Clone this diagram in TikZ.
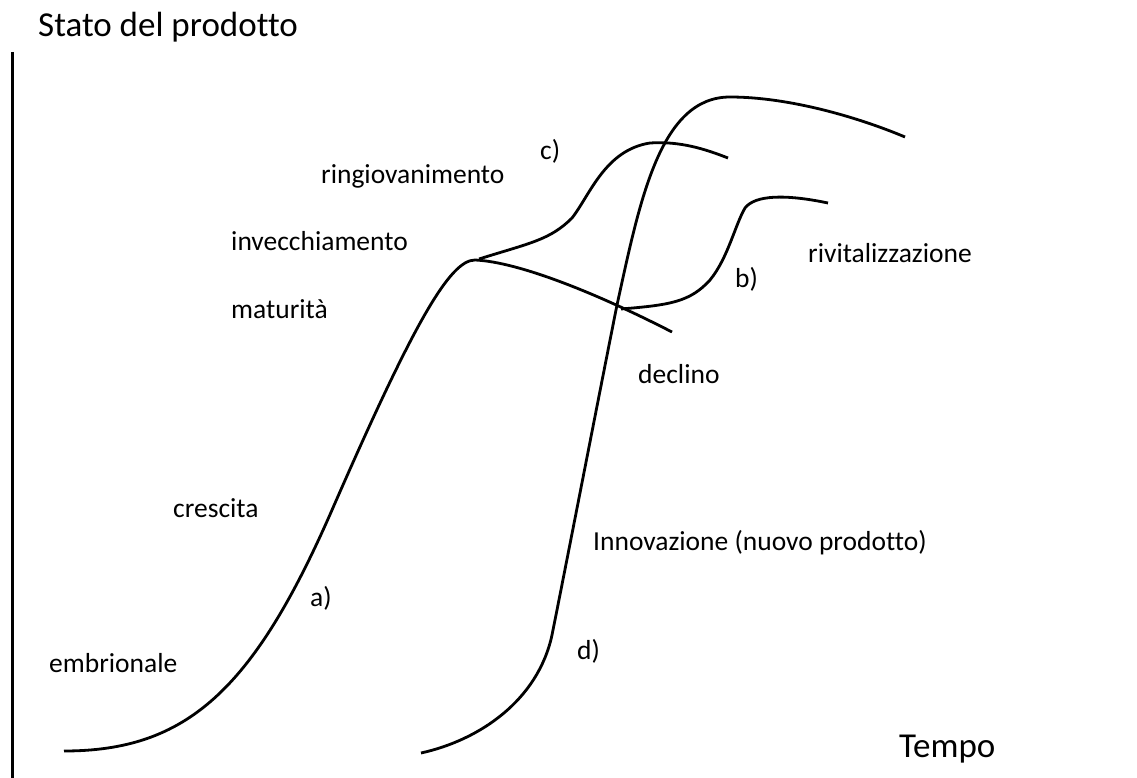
\documentclass[tikz,border=0pt]{standalone}
\usepackage{fontspec}
\setmainfont{Carlito}[Ligatures=NoCommon]
\usepackage{tikz}
\usetikzlibrary{positioning}

\begin{document}
\begin{tikzpicture}[x=1pt,y=-1pt,line join=round,
  curva/.style={line width=2.8pt},
  etichetta/.style={anchor=base west,inner sep=0pt,font=\fontsize{27.5}{30}\selectfont},
  titolo/.style={anchor=base west,inner sep=0pt,font=\fontsize{35}{38}\selectfont}]
\useasboundingbox (0,0) rectangle (1137,778);
% --- axis and axis titles
\draw[line width=3pt] (12,52) -- (12,778);
\node[titolo] (stato) at (38,37) {Stato del prodotto};
\node[titolo] (tempo) at (899,757) {Tempo};
% --- curve a): first product, growth then decline
\draw[curva] (64,751) .. controls (186,751) and (253,691) .. (332,510)
  .. controls (414,322) and (450,260) .. (475,260)
  .. controls (520,262) and (600,295) .. (672,332);
% --- curve c): rejuvenation
\draw[curva] (479,259) .. controls (530,243) and (550,240) .. (572,218)
  .. controls (590,195) and (605,150) .. (650,143)
  .. controls (680,141) and (705,149) .. (728,158);
% --- curve b): revitalisation
\draw[curva] (621,309) .. controls (670,305) and (690,302) .. (710,280)
  .. controls (728,258) and (735,225) .. (745,208)
  .. controls (755,195) and (785,194) .. (828,203);
% --- curve d): innovation
\draw[curva] (421,753) .. controls (480,740) and (538,700) .. (552,635)
  .. controls (568,555) and (600,390) .. (617,305)
  .. controls (640,200) and (660,97) .. (730,97)
  .. controls (790,97) and (860,118) .. (905,137);
% --- phase labels
\node[etichetta] (embrionale) at (49,672) {embrionale};
\node[etichetta] (crescita) at (173,517) {crescita};
\node[etichetta] (maturita) at (231,318) {maturità};
\node[etichetta] (invecchiamento) at (231,250) {invecchiamento};
\node[etichetta] (ringiovanimento) at (321,183) {ringiovanimento};
\node[etichetta] (rivitalizzazione) at (808,262) {rivitalizzazione};
\node[etichetta] (declino) at (638,383) {declino};
\node[etichetta] (innovazione) at (593,550) {Innovazione (nuovo prodotto)};
% --- curve letters
\node[etichetta] (la) at (310,606) {a)};
\node[etichetta] (lb) at (735,287) {b)};
\node[etichetta] (lc) at (540,160) {c)};
\node[etichetta] (ld) at (577,659) {d)};
\end{tikzpicture}
\end{document}
